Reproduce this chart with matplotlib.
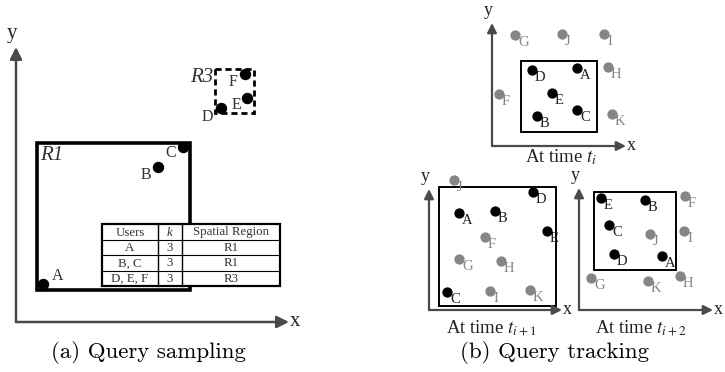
import matplotlib.pyplot as plt
from matplotlib.patches import Rectangle

plt.rcParams['font.family'] = ['Liberation Serif', 'DejaVu Serif']
plt.rcParams['mathtext.fontset'] = 'stix'

# ---- panel (a): query sampling ----
a_names = ['A', 'B', 'C', 'D', 'E', 'F']
a_x = [43, 158, 183, 221, 247, 245]
a_y = [284, 167, 147, 108, 98, 74]
a_lab_x = [58, 146, 171, 207, 236, 233]
a_lab_y = [276, 175, 153, 117, 105, 82]

table_cols = ['Users', 'k', 'Spatial Region']
table_users = ['A', 'B, C', 'D, E, F']
table_k = [3, 3, 3]
table_region = ['R1', 'R1', 'R3']

# ---- panel (b): query tracking, three snapshots ----
snap_titles = [r'At time $t_i$', r'At time $t_{i+1}$', r'At time $t_{i+2}$']
snap_names = ['A', 'B', 'C', 'D', 'E', 'F', 'G', 'H', 'I', 'J', 'K']
snap_inside = [True, True, True, True, True, False, False, False, False, False, False]
snap_x = [
    [577, 537, 577, 532, 552, 499, 515, 608, 604, 562, 612],
    [459, 495, 447, 533, 547, 485, 459, 501, 490, 454, 530],
    [662, 645, 609, 614, 601, 685, 591, 680, 684, 650, 648],
]
snap_y = [
    [68, 116, 110, 70, 93, 94, 35, 67, 34, 34, 114],
    [213, 211, 292, 192, 231, 237, 259, 261, 291, 180, 290],
    [256, 200, 225, 254, 198, 196, 278, 276, 231, 234, 281],
]

fig = plt.figure(figsize=(7.25, 3.72), dpi=100)
ax = fig.add_axes([0, 0, 1, 1])
ax.set_xlim(0, 725)
ax.set_ylim(372, 0)
ax.axis('off')

axis_col = '#4a4a4a'
gray = '#858585'


def arrow(x0, y0, x1, y1, lw=1.6, size=14):
    ax.annotate('', xy=(x1, y1), xytext=(x0, y0),
                arrowprops=dict(arrowstyle='-|>', color=axis_col, lw=lw,
                                mutation_scale=size, shrinkA=0, shrinkB=0))


def axes_frame(ox, oy, top, right, fs=13, lw=1.6, size=14):
    arrow(ox, oy, ox, top, lw, size)
    arrow(ox, oy, right, oy, lw, size)
    ax.text(ox - 4, top - 4, 'y', fontsize=fs, ha='center', va='bottom', color='#222')
    ax.text(right + 1, oy, 'x', fontsize=fs, ha='left', va='center', color='#222')


# panel (a)
axes_frame(16, 322, 47, 289, fs=15, lw=1.8, size=18)
ax.add_patch(Rectangle((37, 143), 153, 147, fill=False, lw=2.6, ec='black'))
ax.add_patch(Rectangle((215, 69), 39, 44, fill=False, lw=2.0, ec='black', ls=(0, (2.2, 1.4))))
ax.text(40, 156, 'R1', fontsize=15, style='italic', color='#333', va='center')
ax.text(213, 77, 'R3', fontsize=15, style='italic', color='#333', va='center', ha='right')
ax.plot(a_x, a_y, 'o', color='black', ms=7.2, zorder=5)
for n, lx, ly in zip(a_names, a_lab_x, a_lab_y):
    ax.text(lx, ly, n, fontsize=11.5, ha='center', va='center', color='#333')

# table
tx = [102, 158, 182, 280]
ty = [224, 240, 255, 271, 286]
ax.add_patch(Rectangle((tx[0], ty[0]), tx[-1] - tx[0], ty[-1] - ty[0], fc='white', ec='black', lw=1.6, zorder=6))
for x in tx[1:-1]:
    ax.plot([x, x], [ty[0], ty[-1]], color='black', lw=1.0, zorder=7)
for y in ty[1:-1]:
    ax.plot([tx[0], tx[-1]], [y, y], color='black', lw=0.8, zorder=7)
rows = [table_cols] + [[u, str(k), r] for u, k, r in zip(table_users, table_k, table_region)]
for i, row in enumerate(rows):
    yc = (ty[i] + ty[i + 1]) / 2
    for j, val in enumerate(row):
        xc = (tx[j] + tx[j + 1]) / 2
        ax.text(xc, yc + 0.5, val, fontsize=9.3, ha='center', va='center', color='#333',
                style='italic' if (i == 0 and j == 1) else 'normal', zorder=8)

ax.text(149, 352, '(a) Query sampling', family='cmr10', fontsize=16.5, ha='center', va='center')

# panel (b)
frames = [(492, 146, 23, 626), (429, 310, 189, 562), (579, 310, 188, 713)]
boxes = [(521, 61, 597, 132), (439, 187, 556, 306), (594, 192, 676, 270)]
title_pos = [(561, 157), (491, 328), (641, 328)]
for k in range(3):
    ox, oy, top, right = frames[k]
    axes_frame(ox, oy, top, right)
    x0, y0, x1, y1 = boxes[k]
    ax.add_patch(Rectangle((x0, y0), x1 - x0, y1 - y0, fill=False, lw=1.4, ec='black'))
    for n, inside, px, py in zip(snap_names, snap_inside, snap_x[k], snap_y[k]):
        col = 'black' if inside else gray
        ax.plot(px, py, 'o', color=col, ms=6.4, zorder=5)
        ax.text(px + 3, py + 1, n, fontsize=10.5, ha='left', va='top',
                color='#222' if inside else gray)
    tx_, ty_ = title_pos[k]
    ax.text(tx_, ty_, snap_titles[k], fontsize=13.5, ha='center', va='center', color='#222')

ax.text(555, 352, '(b) Query tracking', family='cmr10', fontsize=16.5, ha='center', va='center')

fig.savefig('out.png', dpi=100)
